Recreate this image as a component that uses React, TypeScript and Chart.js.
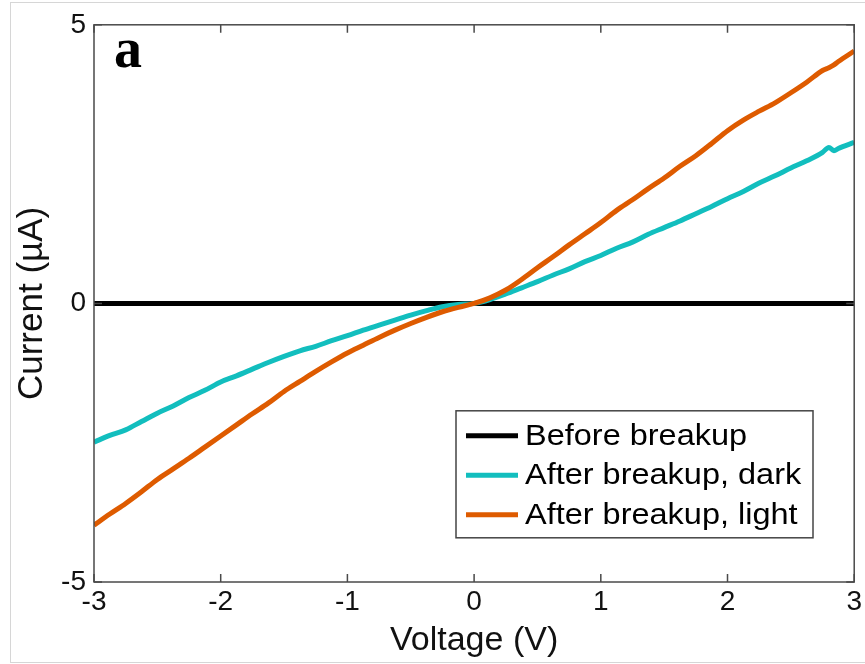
import React, { useEffect, useRef } from "react";
import { Chart, registerables } from "chart.js";

Chart.register(...registerables);

const VOLTAGE = [
  -3, -2.875, -2.75, -2.625, -2.5, -2.375, -2.25, -2.125, -2, -1.875, -1.75, -1.625, -1.5,
  -1.375, -1.25, -1.125, -1, -0.875, -0.75, -0.625, -0.5, -0.375, -0.25, -0.125, 0,
  0.125, 0.25, 0.375, 0.5, 0.625, 0.75, 0.875, 1, 1.125, 1.25, 1.375, 1.5, 1.625,
  1.75, 1.875, 2, 2.125, 2.25, 2.375, 2.5, 2.625, 2.75, 2.8, 2.84, 2.875, 3,
];

const DARK = [
  -2.49, -2.37, -2.27, -2.12, -1.97, -1.84, -1.69, -1.56, -1.41, -1.3, -1.18, -1.06, -0.95,
  -0.85, -0.77, -0.67, -0.58, -0.48, -0.39, -0.3, -0.21, -0.13, -0.06, -0.02, 0,
  0.07, 0.17, 0.28, 0.39, 0.51, 0.62, 0.75, 0.86, 0.99, 1.1, 1.24, 1.36, 1.48,
  1.61, 1.74, 1.88, 2.01, 2.16, 2.29, 2.43, 2.56, 2.71, 2.8, 2.74, 2.78, 2.89,
];

const LIGHT = [
  -3.98, -3.78, -3.59, -3.38, -3.16, -2.97, -2.78, -2.58, -2.38, -2.18, -1.98, -1.79, -1.58,
  -1.4, -1.22, -1.05, -0.89, -0.75, -0.61, -0.48, -0.36, -0.25, -0.15, -0.07, 0,
  0.1, 0.24, 0.43, 0.64, 0.84, 1.05, 1.25, 1.45, 1.67, 1.86, 2.06, 2.25, 2.46,
  2.65, 2.87, 3.1, 3.29, 3.45, 3.6, 3.78, 3.97, 4.18, 4.23, 4.28, 4.34, 4.53,
];

const BEFORE_V = [-3, 3];
const BEFORE_I = [0, 0];

const SERIES_LABELS = ["Before breakup", "After breakup, dark", "After breakup, light"];
const X_TICKS = [-3, -2, -1, 0, 1, 2, 3];
const Y_TICKS = [-5, 0, 5];
const PANEL_LABEL = "a";

const FONT = "'Liberation Sans', Arial, Helvetica, sans-serif";
const COLORS = ["#000000", "#12BEBE", "#DE5B00"];

const overlay = {
  id: "overlay",
  afterDatasetsDraw(chart: any) {
    const ctx = chart.ctx;
    const a = chart.chartArea;
    const xs = chart.scales.x;
    const ys = chart.scales.y;
    ctx.save();
    // frame
    ctx.strokeStyle = "#4a4a4a";
    ctx.lineWidth = 1.5;
    ctx.strokeRect(a.left, a.top, a.right - a.left, a.bottom - a.top);
    // inside ticks
    const tl = 8;
    ctx.beginPath();
    X_TICKS.forEach((v) => {
      const px = xs.getPixelForValue(v);
      ctx.moveTo(px, a.bottom);
      ctx.lineTo(px, a.bottom - tl);
      ctx.moveTo(px, a.top);
      ctx.lineTo(px, a.top + tl);
    });
    Y_TICKS.forEach((v) => {
      const py = ys.getPixelForValue(v);
      ctx.moveTo(a.left, py);
      ctx.lineTo(a.left + tl, py);
      ctx.moveTo(a.right, py);
      ctx.lineTo(a.right - tl, py);
    });
    ctx.stroke();

    // panel label
    ctx.fillStyle = "#000";
    ctx.font = "bold 56px 'Liberation Serif', 'Times New Roman', serif";
    ctx.textBaseline = "alphabetic";
    ctx.textAlign = "left";
    ctx.fillText(PANEL_LABEL, a.left + 20, a.top + 42);

    // legend
    const bx = a.left + 362;
    const by = a.top + 386;
    const bw = 357;
    const bh = 127;
    ctx.fillStyle = "#fff";
    ctx.fillRect(bx, by, bw, bh);
    ctx.strokeStyle = "#444";
    ctx.lineWidth = 1.5;
    ctx.strokeRect(bx, by, bw, bh);
    ctx.font = `29px ${FONT}`;
    ctx.textBaseline = "middle";
    chart.data.datasets.forEach((ds: any, i: number) => {
      const cy = by + 25 + i * 39.5;
      ctx.strokeStyle = ds.borderColor;
      ctx.lineWidth = 5;
      ctx.beginPath();
      ctx.moveTo(bx + 10, cy);
      ctx.lineTo(bx + 62, cy);
      ctx.stroke();
      ctx.fillStyle = "#000";
      ctx.save();
      ctx.translate(bx + 69, cy + 1);
      ctx.scale(1.12, 1);
      ctx.fillText(ds.label, 0, 0);
      ctx.restore();
    });
    ctx.restore();
  },
};

export default function App() {
  const ref = useRef<HTMLCanvasElement | null>(null);

  useEffect(() => {
    if (!ref.current) return;
    const toPts = (xs: number[], ys: number[]) => xs.map((x, i) => ({ x, y: ys[i] }));
    const chart = new Chart(ref.current, {
      type: "scatter",
      data: {
        datasets: [
          {
            label: SERIES_LABELS[0],
            data: toPts(BEFORE_V, BEFORE_I),
            borderColor: COLORS[0],
            backgroundColor: COLORS[0],
            borderWidth: 5,
            showLine: true,
            pointRadius: 0,
            order: 2,
          },
          {
            label: SERIES_LABELS[1],
            data: toPts(VOLTAGE, DARK),
            borderColor: COLORS[1],
            backgroundColor: COLORS[1],
            borderWidth: 5,
            showLine: true,
            pointRadius: 0,
            cubicInterpolationMode: "monotone",
            order: 1,
          },
          {
            label: SERIES_LABELS[2],
            data: toPts(VOLTAGE, LIGHT),
            borderColor: COLORS[2],
            backgroundColor: COLORS[2],
            borderWidth: 5,
            showLine: true,
            pointRadius: 0,
            cubicInterpolationMode: "monotone",
            order: 0,
          },
        ],
      },
      options: {
        animation: false,
        responsive: false,
        maintainAspectRatio: false,
        layout: { padding: { top: 22, right: 9, left: 0, bottom: 0 } },
        plugins: { legend: { display: false }, tooltip: { enabled: false } },
        scales: {
          x: {
            type: "linear",
            min: -3,
            max: 3,
            afterBuildTicks: (s: any) => {
              s.ticks = X_TICKS.map((v) => ({ value: v }));
            },
            afterFit: (s: any) => {
              s.height = 82;
            },
            grid: { display: false, drawTicks: false },
            border: { display: false },
            ticks: {
              color: "#111",
              font: { family: FONT, size: 28 },
              padding: 3,
              maxRotation: 0,
              autoSkip: false,
            },
            title: {
              display: true,
              text: "Voltage (V)",
              color: "#111",
              font: { family: FONT, size: 34 },
              padding: { top: 3, bottom: 3 },
            },
          },
          y: {
            type: "linear",
            min: -5,
            max: 5,
            afterBuildTicks: (s: any) => {
              s.ticks = Y_TICKS.map((v) => ({ value: v }));
            },
            afterFit: (s: any) => {
              s.width = 94;
            },
            grid: { display: false, drawTicks: false },
            border: { display: false },
            ticks: {
              color: "#111",
              font: { family: FONT, size: 28 },
              padding: 8,
              autoSkip: false,
            },
            title: {
              display: true,
              text: "Current (µA)",
              color: "#111",
              font: { family: FONT, size: 35 },
              padding: { top: 11, bottom: 0 },
            },
          },
        },
      },
      plugins: [overlay],
    });
    return () => chart.destroy();
  }, []);

  return (
    <div style={{ position: "absolute", left: 0, top: 0, width: 865, height: 664, background: "#fff" }}>
      <div
        style={{
          position: "absolute",
          left: 10,
          top: 2,
          width: 870,
          height: 659,
          border: "1px solid #d6d6d6",
        }}
      />
      <canvas ref={ref} width={865} height={664} style={{ position: "absolute", left: 0, top: 0 }} />
    </div>
  );
}
